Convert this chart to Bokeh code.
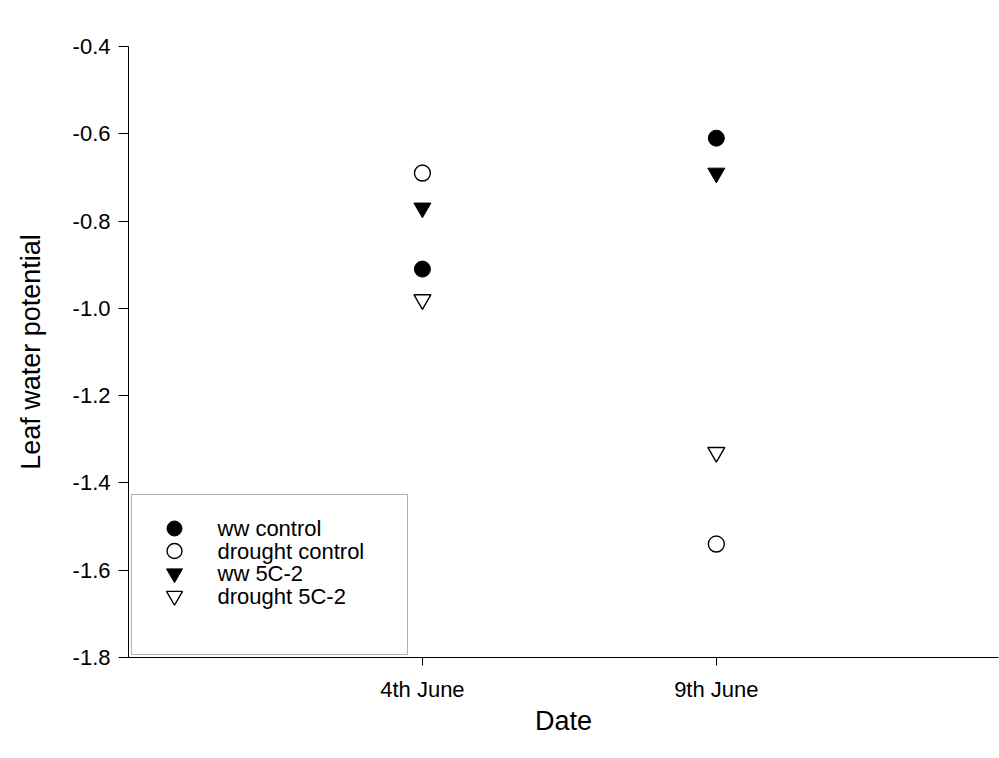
from bokeh.plotting import figure
from bokeh.models import Range1d, FixedTicker, BoxAnnotation
from bokeh.core.properties import value
from bokeh.embed import file_html
from bokeh.resources import INLINE

dates = ["4th June", "9th June"]
ww_control = [-0.91, -0.61]
drought_control = [-0.69, -1.54]
ww_5c2 = [-0.77, -0.69]
drought_5c2 = [-0.98, -1.33]
y_ticks = [-1.8, -1.6, -1.4, -1.2, -1.0, -0.8, -0.6, -0.4]
series_names = ["ww control", "drought control", "ww 5C-2", "drought 5C-2"]

x_pos = [1, 2]
FONT = "Liberation Sans"

W, H = 999, 758
L, R, T, B = 128, 1, 46, 101
x0, x1 = 0.0, 2.96
y0, y1 = -1.8, -0.4

p = figure(width=W, height=H, output_backend="svg", toolbar_location=None,
           x_range=Range1d(x0, x1), y_range=Range1d(y0, y1),
           min_border_left=L, min_border_right=R, min_border_top=T, min_border_bottom=B)
p.outline_line_color = None
p.xgrid.visible = False
p.ygrid.visible = False
p.background_fill_color = "white"
p.border_fill_color = "white"

for ax in (p.xaxis[0], p.yaxis[0]):
    ax.axis_line_color = "black"
    ax.axis_line_width = 1
    ax.major_tick_line_color = "black"
    ax.minor_tick_line_color = None
    ax.major_label_text_font = FONT
    ax.major_label_text_font_size = "22px"
    ax.major_label_text_color = "black"
    ax.axis_label_text_font = FONT
    ax.axis_label_text_font_size = "27px"
    ax.axis_label_text_font_style = "normal"
    ax.axis_label_text_color = "black"
    ax.major_tick_in = 0

p.xaxis.ticker = FixedTicker(ticks=x_pos)
p.xaxis.major_label_overrides = {x: d for x, d in zip(x_pos, dates)}
p.xaxis.major_tick_out = 8
p.xaxis.major_label_standoff = 11
p.xaxis.axis_label = "Date"
p.xaxis.axis_label_standoff = 1

p.yaxis.ticker = FixedTicker(ticks=y_ticks)
p.yaxis.major_label_overrides = {t: f"{t:.1f}" for t in y_ticks}
p.yaxis.major_tick_out = 10
p.yaxis.major_label_standoff = 8
p.yaxis.axis_label = "Leaf water potential"
p.yaxis.axis_label_standoff = 24

styles = [
    dict(marker="circle", size=16, fill_color="black", line_color="black", line_width=1),
    dict(marker="circle", size=16, fill_color="white", line_color="black", line_width=1.4),
    dict(marker="inverted_triangle", size=17, fill_color="black", line_color="black", line_width=1),
    dict(marker="inverted_triangle", size=17, fill_color="white", line_color="black", line_width=1.4),
]
series = [ww_control, drought_control, ww_5c2, drought_5c2]
for vals, st in zip(series, styles):
    p.scatter(x_pos, vals, **st)

# pixel -> data helpers for the legend layout
fw, fh = W - L - R, H - T - B
def px2x(px):
    return x0 + (px - L) / fw * (x1 - x0)
def py2y(py):
    return y1 - (py - T) / fh * (y1 - y0)

box = BoxAnnotation(left=px2x(131), right=px2x(407), top=py2y(494), bottom=py2y(654),
                    fill_color="white", fill_alpha=1, line_color="black", line_width=1,
                    level="underlay")
p.add_layout(box)

row0, pitch = 528, 22.5
for i, (name, st) in enumerate(zip(series_names, styles)):
    yy = py2y(row0 + i * pitch)
    leg = dict(st)
    leg["size"] = 15 if leg["marker"] == "circle" else 16
    p.scatter([px2x(174)], [yy], **leg)
    p.text([px2x(217)], [yy], text=[name], text_font=value(FONT), text_font_size=value("22px"),
           text_color="black", text_align="left", text_baseline="middle")

open("out.html", "w").write(file_html(p, INLINE))
